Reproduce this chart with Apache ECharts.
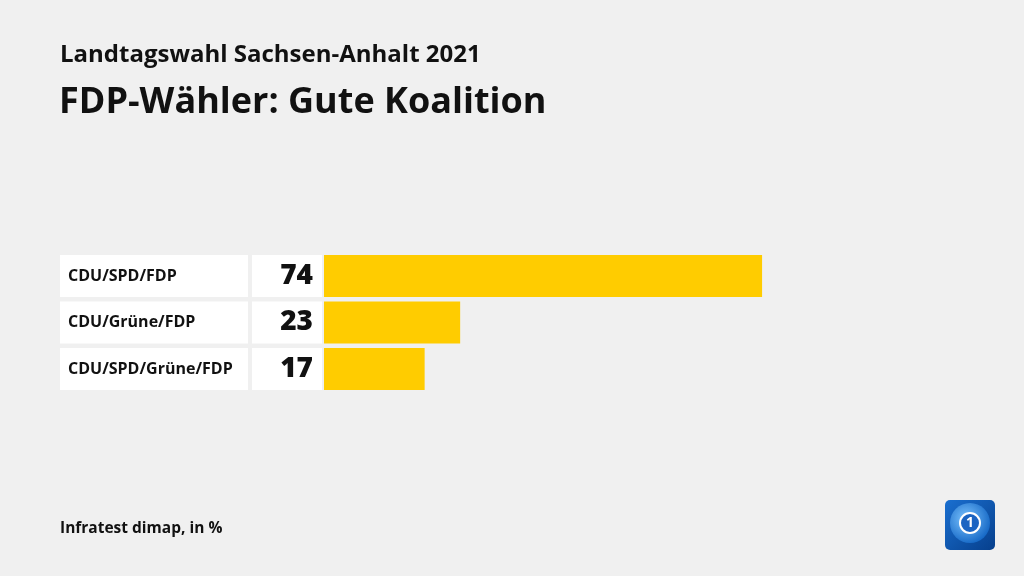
<!DOCTYPE html>
<html><head><meta charset="utf-8">
<script src="https://cdn.jsdelivr.net/npm/echarts@6/dist/echarts.min.js"></script>
<style>html,body{margin:0;padding:0;background:#f0f0f0}#c{width:1024px;height:576px}</style>
</head><body><div id="c"></div>
<script>
const categories = ['CDU/SPD/FDP', 'CDU/Grüne/FDP', 'CDU/SPD/Grüne/FDP'];
const values = [74, 23, 17];
const titleText = 'FDP-Wähler: Gute Koalition';
const subtitleText = 'Landtagswahl Sachsen-Anhalt 2021';
const sourceText = 'Infratest dimap, in %';

const FONT = '"Open Sans", "Noto Sans", sans-serif';
const chart = echarts.init(document.getElementById('c'));
chart.setOption({
  backgroundColor: '#f0f0f0',
  animation: false,
  title: [
    {text: subtitleText, left: 55, top: 38, textStyle: {fontFamily: FONT, fontSize: 24, fontWeight: 700, color: '#111'}},
    {text: titleText, left: 54, top: 80, textStyle: {fontFamily: FONT, fontSize: 36, fontWeight: 700, color: '#111'}},
    {text: sourceText, left: 55, top: 516, textStyle: {fontFamily: FONT, fontSize: 15.5, fontWeight: 700, color: '#111'}}
  ],
  grid: {left: 324, right: 108, top: 252.75, height: 139.5},
  xAxis: {type: 'value', min: 0, max: 100, show: false},
  yAxis: {
    type: 'category', data: categories, inverse: true,
    axisLine: {show: false}, axisTick: {show: false},
    axisLabel: {
      margin: 76,
      formatter: v => '{a|' + v + '}',
      rich: {a: {width: 180, height: 42, lineHeight: 42, backgroundColor: '#ffffff', padding: [0, 0, 0, 8], align: 'left',
        fontFamily: FONT, fontSize: 16, fontWeight: 700, color: '#111'}}
    }
  },
  series: [{
    type: 'bar', data: values, barWidth: 42,
    itemStyle: {color: '#ffcc00'},
    label: {
      show: true, position: 'left', distance: 2,
      formatter: p => '{v|' + p.value + '}',
      rich: {v: {width: 61, height: 42, lineHeight: 44, backgroundColor: '#ffffff', padding: [0, 9, 0, 0], align: 'right',
        fontFamily: FONT, fontSize: 28, fontWeight: 800, color: '#111'}}
    }
  }],
  graphic: [
    {type: 'rect', shape: {x: 945, y: 500, width: 50, height: 50, r: 5},
     style: {fill: new echarts.graphic.LinearGradient(0, 0, 1, 1, [{offset: 0, color: '#1a6fd0'}, {offset: 1, color: '#063f8c'}])}},
    {type: 'circle', shape: {cx: 970, cy: 523, r: 20},
     style: {fill: new echarts.graphic.RadialGradient(0.4, 0.4, 0.7, [{offset: 0, color: '#7cc4ff'}, {offset: 1, color: '#0b5fc0'}])}},
    {type: 'circle', shape: {cx: 970, cy: 523, r: 10}, style: {fill: '#1b64c2', stroke: '#ffffff', lineWidth: 2}},
    {type: 'text', style: {x: 970, y: 523, text: '1', fill: '#ffffff', font: 'bold 14px "Open Sans"', align: 'center', verticalAlign: 'middle'}}
  ]
});
</script></body></html>
